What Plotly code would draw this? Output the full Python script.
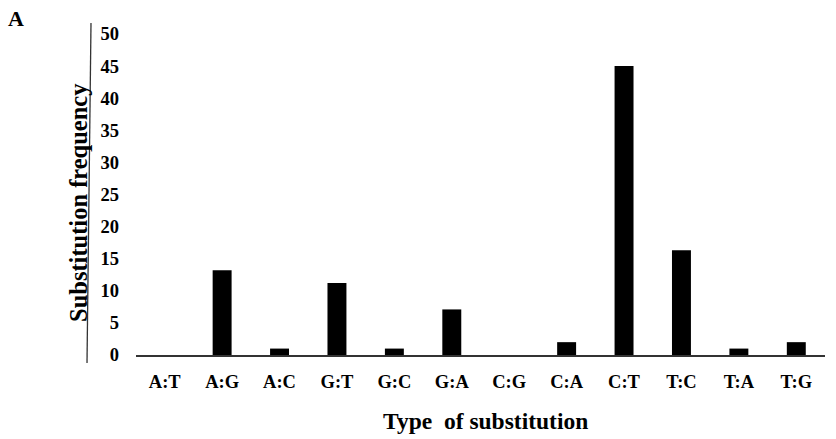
import plotly.graph_objects as go

categories = ["A:T", "A:G", "A:C", "G:T", "G:C", "G:A", "C:G", "C:A", "C:T", "T:C", "T:A", "T:G"]
values = [0, 13.2, 1, 11.2, 1, 7.1, 0, 2, 45, 16.3, 1, 2]
y_ticks = [0, 5, 10, 15, 20, 25, 30, 35, 40, 45, 50]

W, H = 836, 439
L, R, T, B = 136, 11, 34, 84
pw, ph = W - L - R, H - T - B

def px(x):
    return (x - L) / pw

def py(y):
    return (H - B - y) / ph

FONT = "Liberation Serif"

fig = go.Figure(go.Bar(
    x=categories, y=values,
    marker=dict(color="black", line=dict(width=0)),
    hoverinfo="skip",
))

fig.update_layout(
    width=W, height=H,
    margin=dict(l=L, r=R, t=T, b=B),
    paper_bgcolor="white", plot_bgcolor="white",
    bargap=0.67,
    showlegend=False,
    font=dict(family=FONT, color="black", size=18),
    xaxis=dict(
        showline=True, linecolor="#333333", linewidth=1.5,
        showgrid=False, zeroline=False, ticks="",
        tickvals=categories, ticktext=["<b>%s</b>" % c for c in categories],
        tickfont=dict(family=FONT, size=18.5, color="black"),
        ticklabelstandoff=9,
        fixedrange=True,
    ),
    yaxis=dict(
        range=[0, 50], tickvals=y_ticks, ticktext=["<b>%d</b>" % v for v in y_ticks],
        showline=False, showgrid=False, zeroline=False, ticks="",
        tickfont=dict(family=FONT, size=18.5, color="black"),
        ticklabelstandoff=16,
        fixedrange=True,
    ),
    shapes=[dict(
        type="line", xref="paper", yref="paper",
        x0=px(91), y0=py(23), x1=px(87), y1=py(363),
        line=dict(color="#333333", width=1.3),
    )],
    annotations=[
        dict(text="<b>Type  of substitution</b>", xref="paper", yref="paper",
             x=px(485.6), y=py(421), xanchor="center", yanchor="middle",
             showarrow=False, font=dict(family=FONT, size=23.5, color="black")),
        dict(text="<b>Substitution frequency</b>", xref="paper", yref="paper",
             x=px(78.5), y=py(202.5), xanchor="center", yanchor="middle", textangle=-90,
             showarrow=False, font=dict(family=FONT, size=24.5, color="black")),
        dict(text="<b>A</b>", xref="paper", yref="paper",
             x=px(15.5), y=py(18), xanchor="center", yanchor="middle",
             showarrow=False, font=dict(family=FONT, size=22, color="black")),
    ],
)

fig.write_html("out.html", config={"displayModeBar": False},
               post_script="document.body.style.margin='0';document.body.style.padding='0';")
